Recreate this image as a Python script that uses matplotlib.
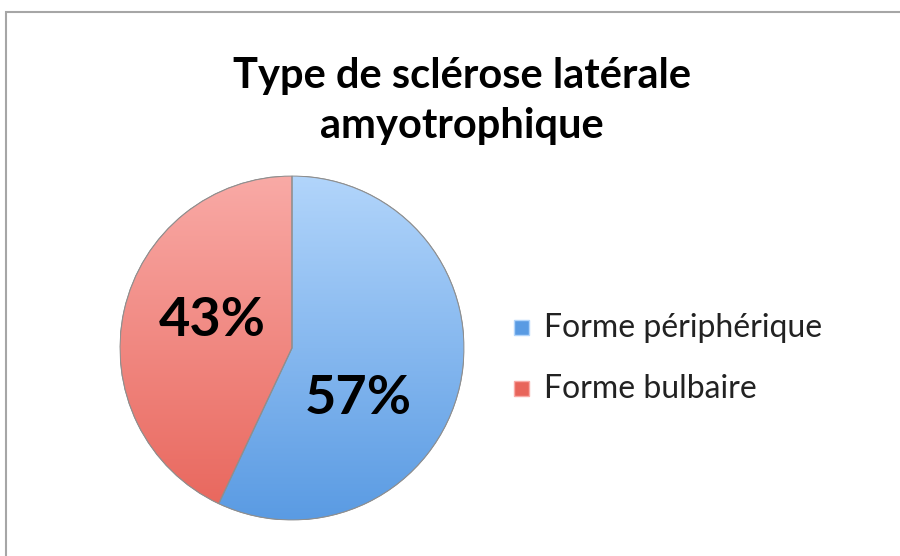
import matplotlib.pyplot as plt
import matplotlib.patches as mpatches
import numpy as np
from matplotlib.colors import LinearSegmentedColormap

labels = ["Forme périphérique", "Forme bulbaire"]
values = [57, 43]
pct_text = ["57%", "43%"]
title = "Type de sclérose latérale\namyotrophique"

top_cols = ["#b2d5fb", "#f9aaa6"]
bot_cols = ["#5a9be3", "#e8655b"]
flat_cols = ["#6fa8ea", "#ec7b73"]

plt.rcParams['font.family'] = ['Lato', 'DejaVu Sans']

fig = plt.figure(figsize=(9, 5.56), dpi=100)
fig.patch.set_facecolor("white")

# frame around the chart
fig.add_artist(mpatches.Rectangle((6 / 900, -0.1), 1.2, 1 - 12 / 556 + 0.1,
                                  transform=fig.transFigure, fill=False,
                                  edgecolor="#a6a6a6", linewidth=1.5))

cx, cy, r = 292, 348, 172
ax = fig.add_axes([(cx - r) / 900, (556 - cy - r) / 556, 2 * r / 900, 2 * r / 556])
wedges, _ = ax.pie(values, startangle=90, counterclock=False, radius=1,
                   colors=flat_cols, wedgeprops=dict(edgecolor="#8a8a8a", linewidth=0.6))
ax.set_xlim(-1, 1)
ax.set_ylim(-1, 1)
ax.set_aspect("auto")

# vertical gradient inside each wedge
for w, c1, c2 in zip(wedges, top_cols, bot_cols):
    cmap = LinearSegmentedColormap.from_list("g", [c2, c1])
    grad = np.linspace(0, 1, 256).reshape(-1, 1)
    im = ax.imshow(grad, extent=[-1, 1, -1, 1], origin="lower", cmap=cmap,
                   aspect="auto", zorder=w.get_zorder() + 0.1)
    im.set_clip_path(w)
    edge = mpatches.Wedge(w.center, w.r, w.theta1, w.theta2, fill=False,
                          edgecolor="#8f8f8f", linewidth=0.8, zorder=w.get_zorder() + 0.2)
    ax.add_patch(edge)

# percentage labels
ax.text((358 - cx) / r, (cy - 398) / r, pct_text[0], ha="center", va="center",
        fontsize=39, fontweight="bold", color="black", zorder=10)
ax.text((212 - cx) / r, (cy - 320) / r, pct_text[1], ha="center", va="center",
        fontsize=39, fontweight="bold", color="black", zorder=10)
ax.axis("off")

fig.text(462 / 900, 1 - 101 / 556, title, ha="center", va="center",
         fontsize=30, fontweight="bold", linespacing=1.38)

# legend
rows = [327, 388]
for lab, c1, c2, y in zip(labels, top_cols, bot_cols, rows):
    sq = mpatches.Rectangle((514 / 900, 1 - (y + 8) / 556), 15 / 900, 15 / 556,
                            transform=fig.transFigure, facecolor=c2,
                            edgecolor=c1, linewidth=1)
    fig.add_artist(sq)
    fig.text(544 / 900, 1 - (y + 1) / 556, lab, ha="left", va="center",
             fontsize=23, color="#222222")

fig.savefig("out.png", dpi=100)
